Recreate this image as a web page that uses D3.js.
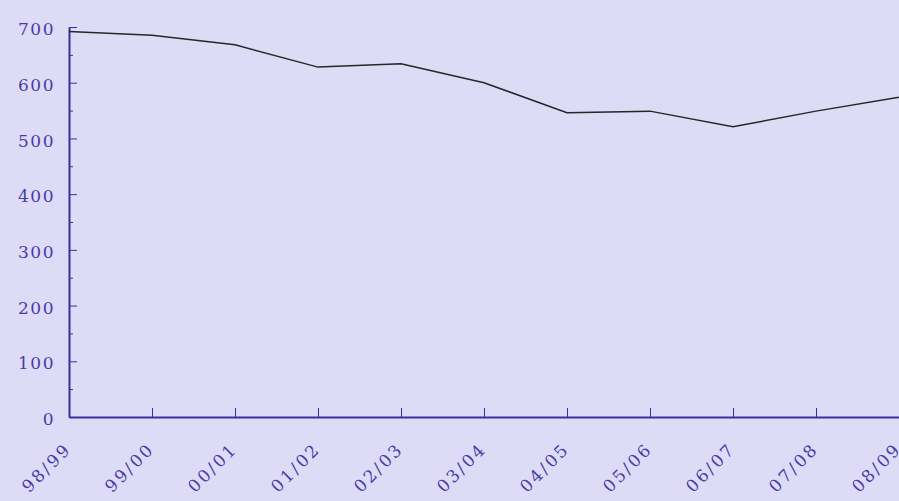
<!DOCTYPE html>
<meta charset="utf-8">
<head>
  <script src="https://cdn.jsdelivr.net/npm/d3@7"></script>
  <style>
    html, body { margin: 0; padding: 0; background: #dedbf7; }
    svg { display: block; }
    .axis text {
      font-family: "DejaVu Serif", serif;
      font-size: 17px;
      letter-spacing: 1.5px;
      fill: #4a3ca6;
    }
    .x.axis text {
      font-size: 17px;
      letter-spacing: 2.5px;
    }
    .axis path, .axis line { stroke: #3b2f9e; }
  </style>
</head>
<body>
  <div id="chart"></div>
  <script>

    // seasons and values
    var seasons = ["98/99", "99/00", "00/01", "01/02", "02/03", "03/04",
                   "04/05", "05/06", "06/07", "07/08", "08/09"];
    var values = [692, 685, 668, 628, 634, 600, 546, 549, 521, 549, 574];
    var yTicks = [0, 100, 200, 300, 400, 500, 600, 700];
    var yMinor = [50, 150, 250, 350, 450, 550, 650];

    var margin = { top: 27, right: 0, bottom: 84, left: 69 },
      width = 899 - margin.left - margin.right,
      height = 501 - margin.top - margin.bottom;

    var svg = d3.select("#chart")
      .append("svg")
      .attr("width", 899)
      .attr("height", 501)
      .append("g")
      .attr("transform", "translate(" + margin.left + "," + margin.top + ")");

    var x = d3.scalePoint()
      .domain(seasons)
      .range([0, width]);

    var y = d3.scaleLinear()
      .domain([0, 700])
      .range([height, 0]);

    // minor y ticks
    svg.append("g")
      .attr("class", "axis")
      .call(d3.axisRight(y).tickValues(yMinor).tickSize(4).tickFormat(""))
      .select(".domain").remove();

    // y axis, ticks pointing inward
    var yAxis = svg.append("g")
      .attr("class", "axis")
      .call(d3.axisRight(y).tickValues(yTicks).tickSizeInner(8).tickSizeOuter(0));
    yAxis.selectAll("text")
      .attr("x", -14)
      .attr("dy", "0.45em")
      .style("text-anchor", "end");
    yAxis.select(".domain").attr("stroke-width", 2);

    // x axis
    var xAxis = svg.append("g")
      .attr("class", "x axis")
      .attr("transform", "translate(0," + height + ")")
      .call(d3.axisTop(x).tickSizeInner(9).tickSizeOuter(0));
    xAxis.select(".domain").attr("stroke-width", 2);
    xAxis.selectAll("text")
      .attr("y", 0)
      .attr("dy", 0)
      .attr("transform", "translate(3,33)rotate(-45)")
      .style("text-anchor", "end");

    // line
    var line = d3.line()
      .x(function (d, i) { return x(seasons[i]); })
      .y(function (d) { return y(d); });

    svg.append("path")
      .datum(values)
      .attr("fill", "none")
      .attr("stroke", "#262626")
      .attr("stroke-width", 1.5)
      .attr("d", line);

  </script>
</body>
